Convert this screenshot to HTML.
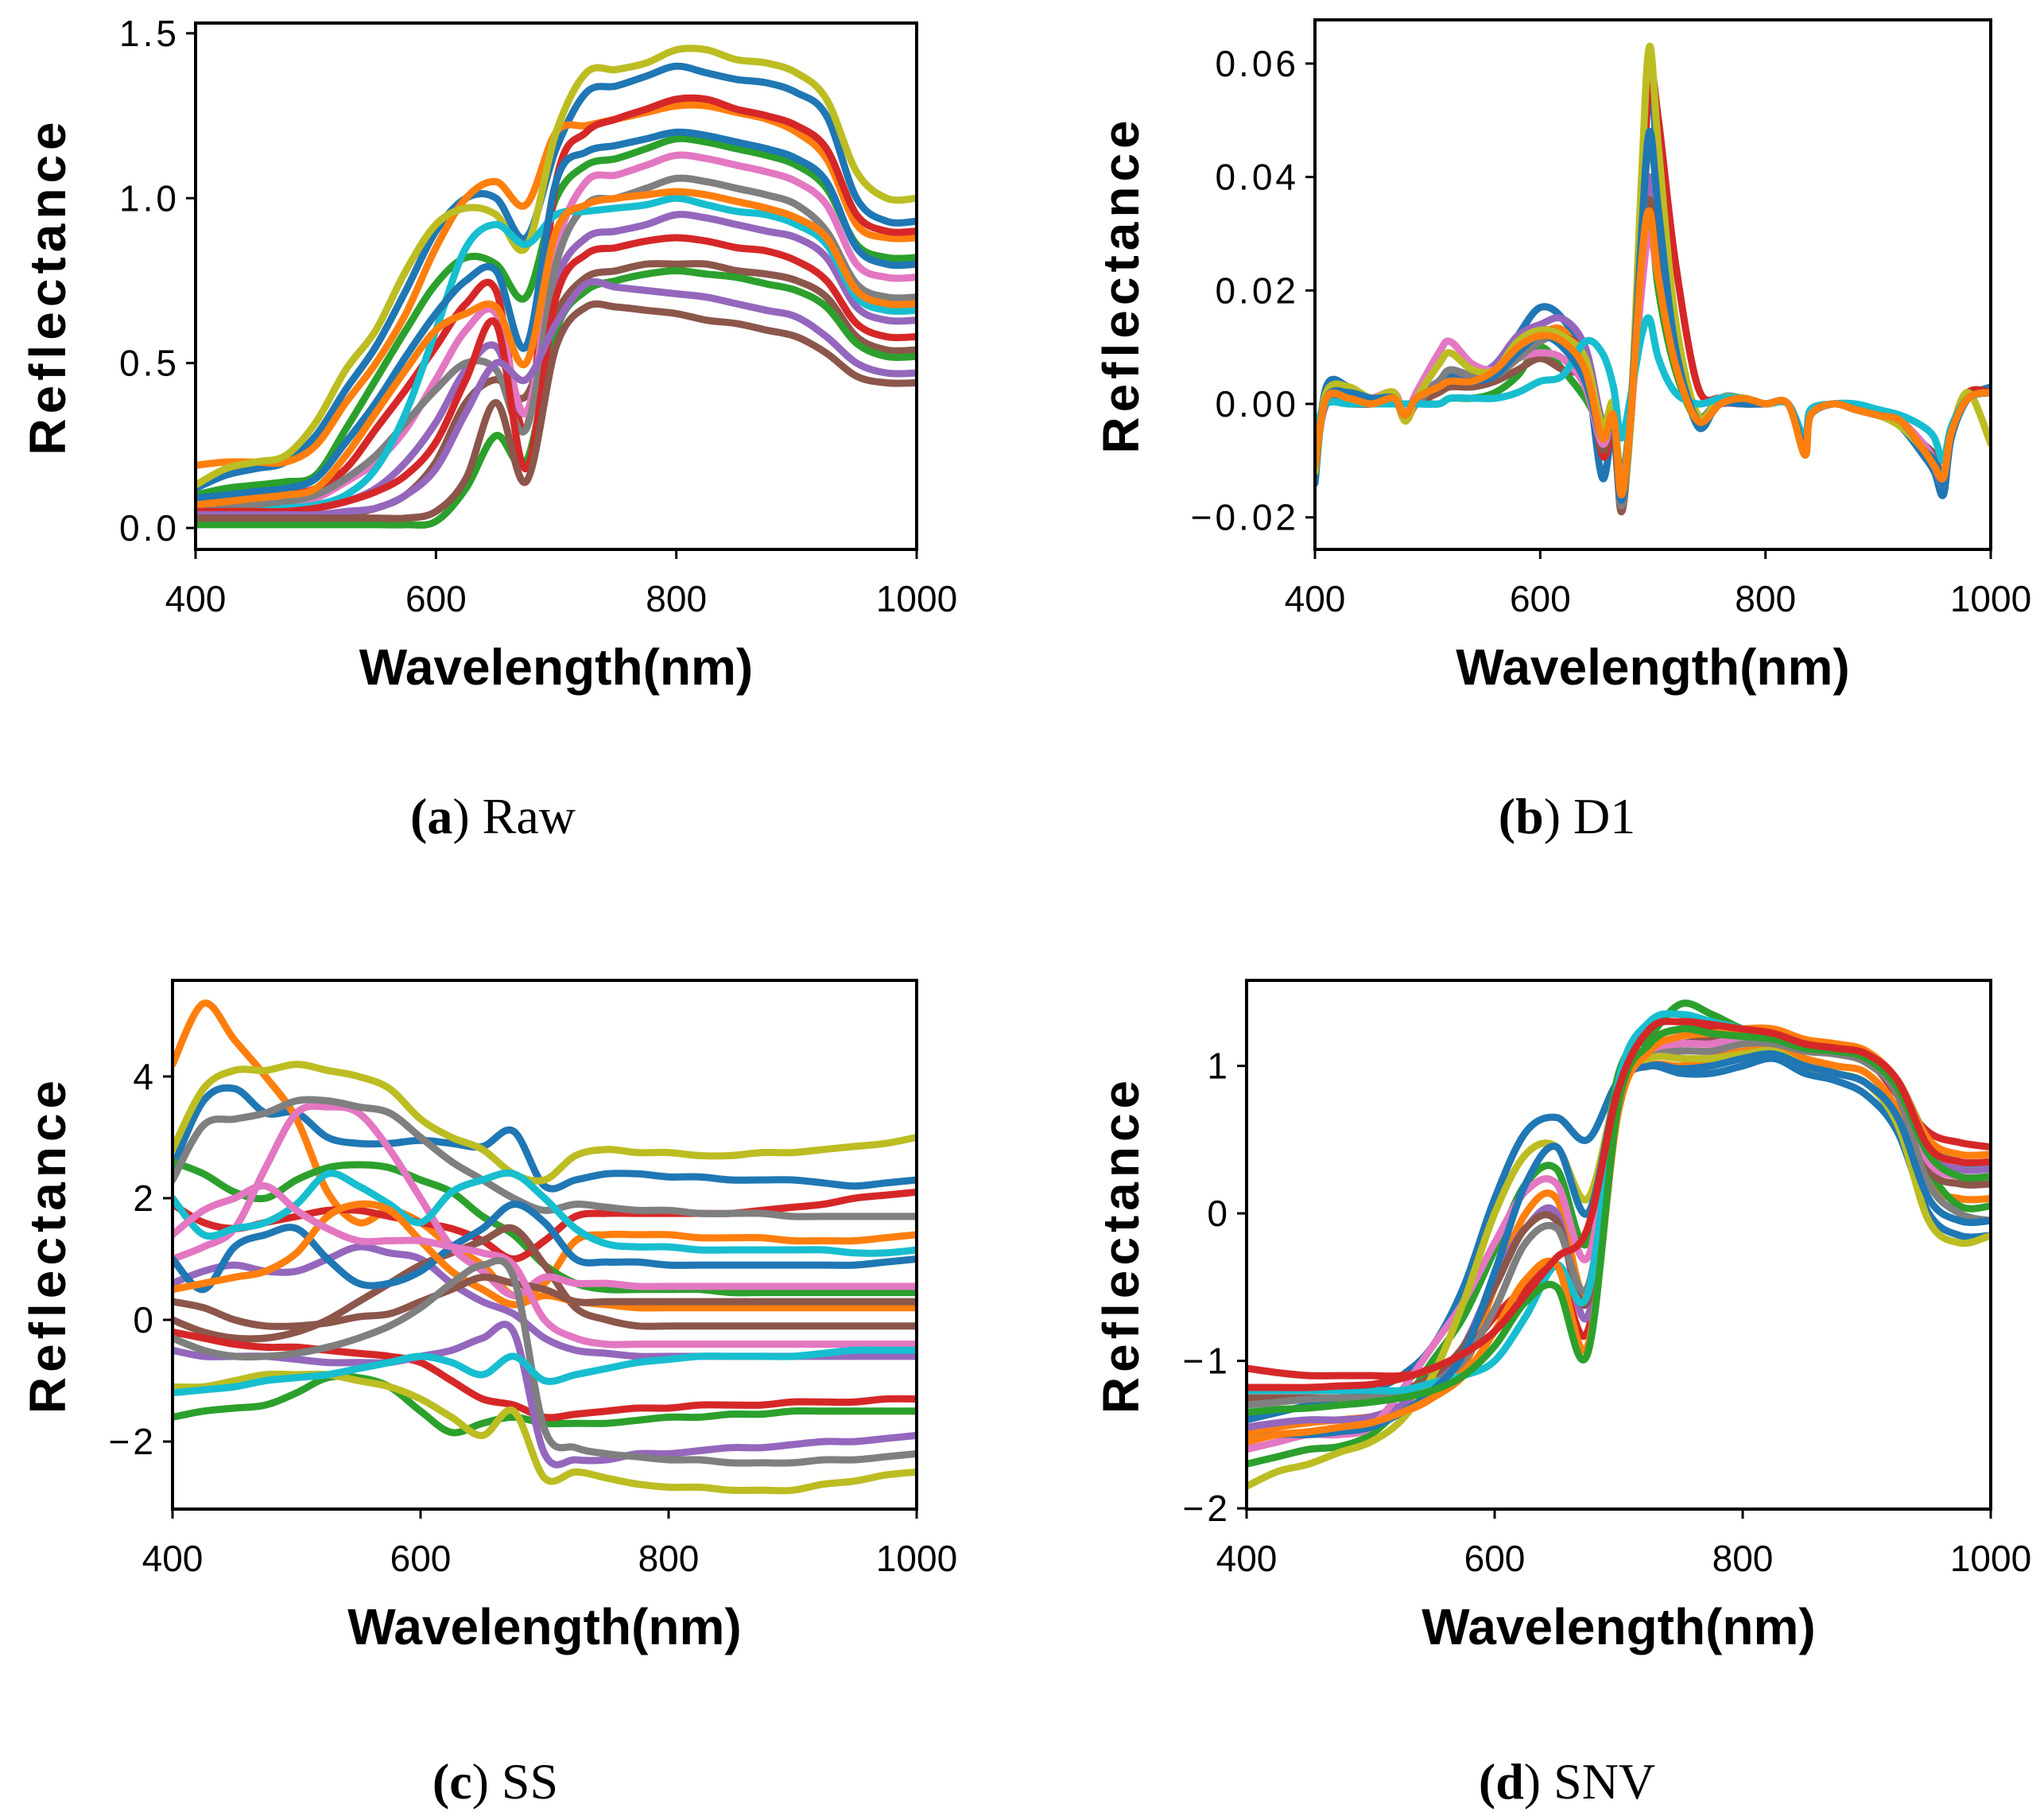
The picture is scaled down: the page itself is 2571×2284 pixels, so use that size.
<!DOCTYPE html>
<html><head><meta charset="utf-8">
<style>
html,body{margin:0;padding:0;background:#fff;}
svg{display:block;}
.tick{font-family:"WenQuanYi Zen Hei","Liberation Sans",sans-serif;font-size:46px;fill:#000;}
.alab{font-family:"WenQuanYi Zen Hei","Liberation Sans",sans-serif;font-size:64px;font-weight:bold;fill:#000;}
.cap{font-family:"Liberation Serif",serif;font-size:64px;fill:#000;}
</style></head>
<body>
<svg id="fig" width="2571" height="2284" viewBox="0 0 2571 2284" xmlns="http://www.w3.org/2000/svg"></svg>
<script>
const wl = [400,425,450,475,500,525,550,575,600,625,650,675,700,725,750,775,800,825,850,875,900,925,950,975,1000];
const wlD1 = [400,410,430,450,470,480,490,510,520,540,560,580,600,620,640,655,665,672,680,690,697,705,720,740,760,780,800,820,835,840,860,880,900,920,940,950,958,965,980,1000];
const colors = ["#1f77b4","#ff7f0e","#2ca02c","#d62728","#9467bd","#8c564b","#e377c2","#7f7f7f","#bcbd22","#17becf"];

const rawSeries = [
[0.12,0.16,0.18,0.2,0.28,0.42,0.55,0.72,0.9,1.0,1.0,0.88,1.15,1.32,1.34,1.37,1.4,1.38,1.36,1.35,1.32,1.25,1.0,0.93,0.93],
[0.19,0.2,0.2,0.2,0.25,0.38,0.5,0.65,0.85,1.0,1.05,0.98,1.2,1.22,1.24,1.26,1.28,1.28,1.26,1.24,1.2,1.12,0.92,0.88,0.88],
[0.1,0.12,0.13,0.14,0.16,0.3,0.45,0.6,0.74,0.82,0.8,0.7,1.0,1.1,1.12,1.15,1.18,1.17,1.15,1.13,1.1,1.03,0.86,0.82,0.82],
[0.08,0.09,0.09,0.1,0.12,0.18,0.3,0.42,0.55,0.68,0.72,0.3,1.05,1.2,1.24,1.27,1.3,1.3,1.27,1.25,1.22,1.15,0.95,0.9,0.9],
[0.04,0.04,0.04,0.05,0.06,0.08,0.12,0.2,0.32,0.48,0.55,0.35,0.75,0.88,0.9,0.92,0.95,0.94,0.92,0.9,0.88,0.82,0.67,0.63,0.63],
[0.02,0.02,0.02,0.02,0.03,0.04,0.06,0.1,0.2,0.38,0.45,0.4,0.65,0.76,0.78,0.8,0.8,0.8,0.78,0.77,0.75,0.7,0.58,0.54,0.54],
[0.05,0.06,0.06,0.07,0.09,0.14,0.2,0.3,0.45,0.6,0.65,0.35,0.85,1.05,1.07,1.1,1.13,1.12,1.1,1.08,1.05,0.98,0.8,0.76,0.76],
[0.06,0.07,0.07,0.08,0.1,0.15,0.22,0.32,0.42,0.5,0.48,0.3,0.8,0.98,1.0,1.03,1.06,1.05,1.03,1.01,0.98,0.9,0.74,0.7,0.7],
[0.13,0.18,0.2,0.22,0.32,0.48,0.6,0.78,0.92,0.97,0.95,0.85,1.2,1.38,1.39,1.41,1.45,1.45,1.42,1.41,1.38,1.3,1.08,1.0,1.0],
[0.05,0.05,0.05,0.06,0.07,0.1,0.18,0.35,0.6,0.85,0.92,0.86,0.95,0.96,0.97,0.98,1.0,0.98,0.96,0.95,0.92,0.86,0.7,0.66,0.66],
[0.09,0.1,0.11,0.12,0.15,0.26,0.38,0.52,0.65,0.75,0.78,0.55,1.05,1.14,1.16,1.18,1.2,1.19,1.17,1.15,1.12,1.05,0.85,0.8,0.8],
[0.07,0.08,0.09,0.1,0.12,0.22,0.35,0.48,0.6,0.65,0.67,0.5,0.9,0.98,1.0,1.01,1.02,1.01,0.99,0.97,0.94,0.88,0.72,0.68,0.68],
[0.01,0.01,0.01,0.01,0.01,0.01,0.01,0.01,0.02,0.12,0.28,0.2,0.6,0.72,0.75,0.77,0.78,0.77,0.76,0.74,0.72,0.67,0.56,0.52,0.52],
[0.05,0.05,0.05,0.05,0.06,0.08,0.11,0.16,0.26,0.45,0.62,0.18,0.7,0.83,0.85,0.87,0.88,0.87,0.85,0.84,0.81,0.75,0.62,0.58,0.58],
[0.04,0.04,0.04,0.04,0.04,0.05,0.06,0.1,0.18,0.35,0.5,0.45,0.62,0.74,0.73,0.72,0.71,0.7,0.68,0.66,0.64,0.58,0.5,0.47,0.47],
[0.03,0.03,0.03,0.03,0.03,0.03,0.03,0.03,0.05,0.15,0.38,0.14,0.55,0.67,0.67,0.66,0.65,0.63,0.62,0.6,0.58,0.53,0.46,0.44,0.44]
];

const d1Series = [
[-0.014,0.003,0.003,0.001,0.002,-0.002,0.001,0.004,0.005,0.004,0.006,0.012,0.017,0.015,0.007,-0.013,-0.004,-0.018,-0.003,0.035,0.06,0.04,0.012,-0.004,0.001,0.001,0.0,0.0,-0.009,-0.002,0.0,-0.001,-0.002,-0.004,-0.009,-0.012,-0.016,-0.006,0.001,0.003],
[-0.01,0.0,0.0,0.0,0.001,-0.003,0.0,0.003,0.004,0.004,0.005,0.008,0.012,0.013,0.006,-0.006,-0.003,-0.019,-0.004,0.025,0.039,0.03,0.01,-0.003,0.0,0.0,0.0,0.0,-0.008,-0.002,0.0,-0.001,-0.002,-0.003,-0.007,-0.01,-0.014,-0.005,0.001,0.002],
[-0.012,0.001,0.002,0.0,0.001,-0.002,0.0,0.0,0.001,0.001,0.002,0.005,0.01,0.006,0.001,-0.004,-0.002,-0.013,-0.002,0.025,0.034,0.02,0.006,-0.003,0.0,0.001,0.0,0.0,-0.009,-0.002,0.0,-0.001,-0.002,-0.003,-0.008,-0.011,-0.013,-0.005,0.001,0.002],
[-0.01,0.0,0.001,0.001,0.002,-0.002,0.001,0.003,0.004,0.004,0.005,0.01,0.013,0.012,0.008,-0.009,-0.005,-0.018,-0.002,0.03,0.058,0.05,0.025,0.003,0.001,0.001,0.0,0.0,-0.008,-0.002,0.0,-0.001,-0.002,-0.003,-0.008,-0.01,-0.014,-0.005,0.002,0.002],
[-0.01,0.0,0.001,0.0,0.001,-0.002,0.001,0.004,0.006,0.005,0.007,0.012,0.014,0.015,0.01,-0.003,-0.001,-0.017,-0.003,0.028,0.04,0.03,0.01,-0.002,0.0,0.0,0.0,0.0,-0.008,-0.002,0.0,-0.001,-0.002,-0.003,-0.008,-0.011,-0.014,-0.005,0.001,0.002],
[-0.01,0.0,0.0,0.0,0.001,-0.002,0.0,0.002,0.003,0.003,0.004,0.006,0.008,0.006,0.004,-0.008,-0.004,-0.019,-0.004,0.026,0.036,0.025,0.008,-0.002,0.0,0.0,0.0,0.0,-0.008,-0.002,0.0,-0.001,-0.002,-0.003,-0.007,-0.009,-0.013,-0.005,0.001,0.002],
[-0.01,0.0,0.001,0.001,0.002,-0.002,0.002,0.009,0.011,0.007,0.006,0.008,0.009,0.008,0.003,-0.007,-0.003,-0.015,-0.003,0.02,0.03,0.022,0.008,-0.002,0.0,0.0,0.0,0.0,-0.008,-0.002,0.0,-0.001,-0.002,-0.003,-0.007,-0.01,-0.013,-0.005,0.001,0.002],
[-0.008,0.0,0.001,0.0,0.001,-0.002,0.0,0.004,0.006,0.005,0.005,0.008,0.011,0.012,0.007,-0.005,-0.002,-0.018,-0.003,0.03,0.046,0.035,0.01,-0.002,0.001,0.0,0.0,0.0,-0.008,-0.002,0.0,-0.001,-0.002,-0.003,-0.008,-0.01,-0.013,-0.005,0.001,0.002],
[-0.012,0.002,0.003,0.001,0.002,-0.003,0.001,0.007,0.009,0.006,0.006,0.011,0.013,0.012,0.008,-0.004,0.0,-0.016,-0.004,0.04,0.063,0.045,0.015,-0.002,0.001,0.001,0.0,0.0,-0.009,-0.002,0.0,-0.001,-0.002,-0.004,-0.008,-0.011,-0.013,-0.005,0.002,-0.007],
[-0.005,0.0,0.0,0.0,0.0,0.0,0.0,0.0,0.001,0.001,0.001,0.002,0.004,0.005,0.011,0.009,0.003,-0.006,0.001,0.012,0.015,0.008,0.002,0.0,0.001,0.001,0.0,0.0,-0.006,-0.001,0.0,0.0,-0.001,-0.002,-0.004,-0.006,-0.01,-0.004,0.001,0.002],
[-0.011,0.001,0.002,0.001,0.001,-0.002,0.001,0.003,0.004,0.004,0.005,0.009,0.012,0.01,0.004,-0.006,-0.003,-0.017,-0.003,0.03,0.048,0.034,0.01,-0.003,0.0,0.0,0.0,0.0,-0.008,-0.002,0.0,-0.001,-0.002,-0.003,-0.008,-0.01,-0.014,-0.005,0.001,0.002],
[-0.011,0.001,0.001,0.0,0.001,-0.002,0.001,0.003,0.004,0.004,0.006,0.01,0.012,0.011,0.006,-0.006,-0.002,-0.016,-0.003,0.025,0.034,0.022,0.007,-0.003,0.0,0.001,0.0,0.0,-0.009,-0.002,0.0,-0.001,-0.002,-0.003,-0.008,-0.011,-0.013,-0.005,0.001,0.002]
];

const ssSeries = [
[2.5,3.6,3.8,3.4,3.4,3.0,2.9,2.9,2.95,2.9,2.85,3.1,2.2,2.3,2.4,2.4,2.35,2.35,2.3,2.3,2.3,2.25,2.2,2.25,2.3],
[4.2,5.2,4.6,4.0,3.3,2.1,1.6,1.8,1.6,1.2,0.9,0.4,0.6,1.3,1.4,1.4,1.4,1.35,1.35,1.35,1.3,1.3,1.3,1.35,1.4],
[2.6,2.4,2.1,2.0,2.3,2.5,2.55,2.5,2.3,2.1,1.7,1.4,0.9,0.6,0.5,0.5,0.5,0.5,0.45,0.45,0.45,0.45,0.45,0.45,0.45],
[1.9,1.6,1.5,1.6,1.7,1.8,1.8,1.7,1.6,1.5,1.3,1.0,1.3,1.7,1.75,1.75,1.75,1.75,1.75,1.8,1.85,1.9,2.0,2.05,2.1],
[0.6,0.8,0.9,0.8,0.8,1.0,1.2,1.1,1.0,0.6,0.3,0.1,-0.3,-0.5,-0.55,-0.6,-0.6,-0.6,-0.6,-0.6,-0.6,-0.6,-0.6,-0.6,-0.6],
[0.0,-0.2,-0.3,-0.3,-0.2,0.0,0.3,0.6,0.9,1.1,1.3,1.5,0.9,0.2,0.0,-0.1,-0.1,-0.1,-0.1,-0.1,-0.1,-0.1,-0.1,-0.1,-0.1],
[1.0,1.2,1.5,2.5,3.4,3.5,3.4,2.8,2.0,1.2,0.8,0.4,0.7,0.6,0.6,0.55,0.55,0.55,0.55,0.55,0.55,0.55,0.55,0.55,0.55],
[2.3,3.2,3.3,3.4,3.6,3.6,3.5,3.4,3.0,2.6,2.3,2.0,1.8,1.9,1.85,1.8,1.8,1.75,1.75,1.75,1.7,1.7,1.7,1.7,1.7],
[2.8,3.8,4.1,4.1,4.2,4.1,4.0,3.8,3.3,3.0,2.8,2.4,2.3,2.7,2.8,2.75,2.75,2.7,2.7,2.75,2.75,2.8,2.85,2.9,3.0],
[2.0,1.4,1.5,1.6,1.9,2.4,2.2,1.9,1.6,2.1,2.3,2.4,2.0,1.5,1.25,1.2,1.2,1.15,1.15,1.15,1.15,1.15,1.1,1.1,1.15],
[1.0,0.5,1.2,1.4,1.5,1.0,0.6,0.6,0.8,1.2,1.5,1.9,1.6,1.0,0.95,0.95,0.9,0.9,0.9,0.9,0.9,0.9,0.9,0.95,1.0],
[0.5,0.6,0.7,0.8,1.1,1.7,1.9,1.8,1.3,0.8,0.5,0.25,0.4,0.3,0.25,0.2,0.2,0.2,0.2,0.2,0.2,0.2,0.2,0.2,0.2],
[-1.6,-1.5,-1.45,-1.4,-1.2,-0.95,-0.95,-1.1,-1.5,-1.85,-1.7,-1.6,-1.7,-1.7,-1.7,-1.65,-1.6,-1.6,-1.55,-1.55,-1.5,-1.5,-1.5,-1.5,-1.5],
[-0.2,-0.3,-0.4,-0.45,-0.45,-0.5,-0.55,-0.6,-0.7,-1.0,-1.3,-1.4,-1.6,-1.55,-1.5,-1.45,-1.45,-1.4,-1.4,-1.4,-1.35,-1.35,-1.35,-1.3,-1.3],
[-0.5,-0.6,-0.6,-0.6,-0.65,-0.7,-0.7,-0.7,-0.6,-0.5,-0.3,-0.2,-2.2,-2.3,-2.3,-2.2,-2.2,-2.15,-2.1,-2.1,-2.05,-2.0,-2.0,-1.95,-1.9],
[0.3,0.2,0.0,-0.1,-0.1,-0.05,0.05,0.1,0.3,0.5,0.7,0.6,0.5,0.3,0.3,0.3,0.3,0.3,0.3,0.3,0.3,0.3,0.3,0.3,0.3],
[1.4,1.8,2.0,2.2,1.8,1.5,1.3,1.3,1.3,1.2,1.1,0.9,0.0,-0.3,-0.4,-0.4,-0.4,-0.4,-0.4,-0.4,-0.4,-0.4,-0.4,-0.4,-0.4],
[-0.3,-0.5,-0.6,-0.6,-0.55,-0.45,-0.3,-0.1,0.2,0.6,0.9,0.7,-1.8,-2.1,-2.2,-2.25,-2.3,-2.3,-2.35,-2.35,-2.35,-2.3,-2.3,-2.25,-2.2],
[-1.1,-1.1,-1.0,-0.9,-0.9,-0.9,-1.0,-1.1,-1.3,-1.6,-1.9,-1.5,-2.6,-2.5,-2.6,-2.7,-2.75,-2.75,-2.8,-2.8,-2.8,-2.7,-2.65,-2.55,-2.5],
[-1.2,-1.15,-1.1,-1.0,-0.95,-0.9,-0.8,-0.7,-0.6,-0.7,-0.9,-0.6,-1.0,-0.9,-0.8,-0.7,-0.65,-0.6,-0.6,-0.6,-0.6,-0.55,-0.5,-0.5,-0.5]
];

const snvSeries = [
[-1.4,-1.35,-1.3,-1.25,-1.2,-1.1,-0.9,-0.5,0.1,0.55,0.65,0.5,0.9,1.0,0.95,0.95,1.0,1.05,0.95,0.9,0.8,0.55,0.0,-0.15,-0.15],
[-1.5,-1.45,-1.42,-1.4,-1.38,-1.35,-1.25,-1.05,-0.5,0.0,0.1,-0.55,0.8,1.0,1.0,1.05,1.1,1.12,1.05,1.0,0.95,0.7,0.2,0.1,0.1],
[-1.7,-1.65,-1.6,-1.58,-1.5,-1.3,-1.0,-0.7,-0.25,0.2,0.3,-0.2,0.95,1.2,1.42,1.35,1.25,1.2,1.12,1.1,1.05,0.85,0.3,0.05,0.05],
[-1.05,-1.08,-1.1,-1.1,-1.1,-1.1,-1.05,-0.95,-0.7,-0.5,-0.35,-0.8,0.7,1.15,1.25,1.25,1.25,1.22,1.15,1.12,1.05,0.8,0.55,0.48,0.45],
[-1.45,-1.42,-1.4,-1.4,-1.38,-1.3,-1.15,-0.9,-0.45,-0.1,0.0,-0.7,0.8,1.1,1.15,1.18,1.2,1.2,1.13,1.1,1.05,0.85,0.4,0.3,0.3],
[-1.25,-1.25,-1.25,-1.25,-1.24,-1.2,-1.1,-0.9,-0.5,-0.1,-0.05,-0.6,0.85,1.1,1.15,1.18,1.2,1.2,1.13,1.1,1.05,0.85,0.3,0.2,0.2],
[-1.6,-1.55,-1.5,-1.5,-1.45,-1.2,-0.9,-0.6,-0.2,0.15,0.2,-0.3,0.85,1.1,1.15,1.15,1.2,1.2,1.12,1.1,1.05,0.85,0.35,0.25,0.25],
[-1.3,-1.28,-1.26,-1.25,-1.25,-1.22,-1.15,-1.0,-0.65,-0.2,-0.1,-0.5,0.8,1.05,1.1,1.1,1.15,1.15,1.1,1.08,1.02,0.8,0.2,0.0,-0.05],
[-1.85,-1.75,-1.7,-1.62,-1.55,-1.4,-1.1,-0.6,0.0,0.4,0.45,0.1,0.85,1.05,1.05,1.05,1.08,1.1,1.0,0.95,0.88,0.6,-0.05,-0.2,-0.15],
[-1.2,-1.2,-1.2,-1.2,-1.2,-1.2,-1.15,-1.1,-1.0,-0.7,-0.35,-0.55,0.9,1.3,1.35,1.3,1.25,1.2,1.15,1.12,1.08,0.9,0.5,0.35,0.35],
[-1.55,-1.5,-1.5,-1.48,-1.45,-1.35,-1.2,-0.95,-0.4,0.2,0.45,0.0,0.85,1.0,0.98,1.0,1.05,1.08,1.0,0.95,0.88,0.65,0.1,-0.05,-0.05],
[-1.55,-1.5,-1.48,-1.45,-1.42,-1.35,-1.25,-1.1,-0.8,-0.45,-0.35,-0.9,0.7,1.1,1.2,1.22,1.25,1.25,1.18,1.15,1.1,0.9,0.5,0.4,0.4],
[-1.35,-1.33,-1.32,-1.3,-1.28,-1.25,-1.2,-1.1,-0.9,-0.6,-0.5,-0.95,0.75,1.15,1.25,1.22,1.2,1.18,1.12,1.1,1.05,0.85,0.4,0.25,0.25],
[-1.18,-1.18,-1.18,-1.17,-1.16,-1.12,-1.05,-0.95,-0.8,-0.55,-0.3,-0.1,0.85,1.25,1.3,1.28,1.25,1.22,1.15,1.12,1.08,0.9,0.45,0.35,0.35]
];

const xTicks = [400,600,800,1000];
const xTickLabels = ["400","600","800","1000"];
const rawYTicks = [0,0.5,1.0,1.5];
const rawYLabels = ["0.0","0.5","1.0","1.5"];
const d1YTicks = [-0.02,0,0.02,0.04,0.06];
const d1YLabels = ["\u22120.02","0.00","0.02","0.04","0.06"];
const ssYTicks = [-2,0,2,4];
const ssYLabels = ["\u22122","0","2","4"];
const snvYTicks = [-2,-1,0,1];
const snvYLabels = ["\u22122","\u22121","0","1"];

const NS = "http://www.w3.org/2000/svg";
const svg = document.getElementById("fig");
function mk(tag, attrs, parent){
  const e = document.createElementNS(NS, tag);
  for (const k in attrs) e.setAttribute(k, attrs[k]);
  (parent||svg).appendChild(e);
  return e;
}
function smoothPath(pts){
  let d = "M" + pts[0][0].toFixed(1) + "," + pts[0][1].toFixed(1);
  for (let i=0;i<pts.length-1;i++){
    const p0 = pts[Math.max(0,i-1)], p1 = pts[i], p2 = pts[i+1], p3 = pts[Math.min(pts.length-1,i+2)];
    const c1x = p1[0] + (p2[0]-p0[0])/6, c1y = p1[1] + (p2[1]-p0[1])/6;
    const c2x = p2[0] - (p3[0]-p1[0])/6, c2y = p2[1] - (p3[1]-p1[1])/6;
    d += " C" + c1x.toFixed(1)+","+c1y.toFixed(1)+" "+c2x.toFixed(1)+","+c2y.toFixed(1)+" "+p2[0].toFixed(1)+","+p2[1].toFixed(1);
  }
  return d;
}

function drawPanel(p){
  const g = mk("g", {});
  
  
  const xs = v => p.left + (v - 400) / 600 * (p.right - p.left);
  const ys = v => p.bottom - (v - p.ymin) / (p.ymax - p.ymin) * (p.bottom - p.top);
  const clipId = "clip-" + p.name;
  const cp = mk("clipPath", {id: clipId}, g);
  mk("rect", {x:p.left, y:p.top, width:p.right-p.left, height:p.bottom-p.top}, cp);
  const lines = mk("g", {"clip-path":"url(#"+clipId+")"}, g);
  
  
  p.series.forEach((s, i) => {
    const pts = s.map((v, j) => [xs(p.x[j]), ys(v)]);
    const path = mk("path", {d: smoothPath(pts), fill:"none", stroke: colors[i % 10], "stroke-width": 9, "stroke-linejoin":"round", "stroke-linecap":"round"}, lines);
    
    
  });
  const frame = mk("rect", {x:p.left, y:p.top, width:p.right-p.left, height:p.bottom-p.top, fill:"none", stroke:"#000", "stroke-width":4}, g);
  
  
  xTicks.forEach((t, i) => {
    const x = xs(t);
    const tk = mk("line", {x1:x, x2:x, y1:p.bottom, y2:p.bottom+12, stroke:"#000", "stroke-width":3}, g);
    
    
    const tx = mk("text", {x:x, y:p.bottom+78, "text-anchor":"middle", class:"tick"}, g);
    tx.textContent = xTickLabels[i];
    
    
  });
  p.yTicks.forEach((t, i) => {
    const y = ys(t);
    const tk = mk("line", {x1:p.left-12, x2:p.left, y1:y, y2:y, stroke:"#000", "stroke-width":3}, g);
    
    
    const tx = mk("text", {x:p.left-20, y:y+16, "text-anchor":"end", class:"tick", "letter-spacing":"4"}, g);
    tx.textContent = p.yLabels[i];
    
    
  });
  const xl = mk("text", {x:(p.left+p.right)/2, y:p.bottom+170, "text-anchor":"middle", class:"alab"}, g);
  xl.textContent = "Wavelength(nm)";
  
  
  const cy = (p.top + p.bottom)/2;
  const yl = mk("text", {x:p.ylabX, y:cy, "text-anchor":"middle", class:"alab", transform:"rotate(-90 "+p.ylabX+" "+cy+")", "letter-spacing":"6"}, g);
  yl.textContent = "Reflectance";
  
  
  const cap = mk("text", {x:p.capX, y:p.capY, "text-anchor":"middle", class:"cap"}, g);
  const b = mk("tspan", {"font-weight":"bold"}, cap);
  b.textContent = "(" + p.letter;
  const r = mk("tspan", {}, cap);
  r.textContent = ") " + p.caption;
  
  
}

drawPanel({name:"raw", left:246, right:1153, top:29, bottom:691, ymin:-0.065, ymax:1.531, x:wl, series:rawSeries, yTicks:rawYTicks, yLabels:rawYLabels, ylabX:82, capX:620, capY:1048, letter:"a", caption:"Raw"});
drawPanel({name:"d1", left:1654, right:2504, top:25, bottom:691, ymin:-0.02565, ymax:0.0677, x:wlD1, series:d1Series, yTicks:d1YTicks, yLabels:d1YLabels, ylabX:1432, capX:1971, capY:1048, letter:"b", caption:"D1"});
drawPanel({name:"ss", left:217, right:1153, top:1233, bottom:1898, ymin:-3.11, ymax:5.58, x:wl, series:ssSeries, yTicks:ssYTicks, yLabels:ssYLabels, ylabX:82, capX:623, capY:2262, letter:"c", caption:"SS"});
drawPanel({name:"snv", left:1568, right:2504, top:1233, bottom:1898, ymin:-2.005, ymax:1.58, x:wl, series:snvSeries, yTicks:snvYTicks, yLabels:snvYLabels, ylabX:1432, capX:1971, capY:2262, letter:"d", caption:"SNV"});
</script>
</body></html>
